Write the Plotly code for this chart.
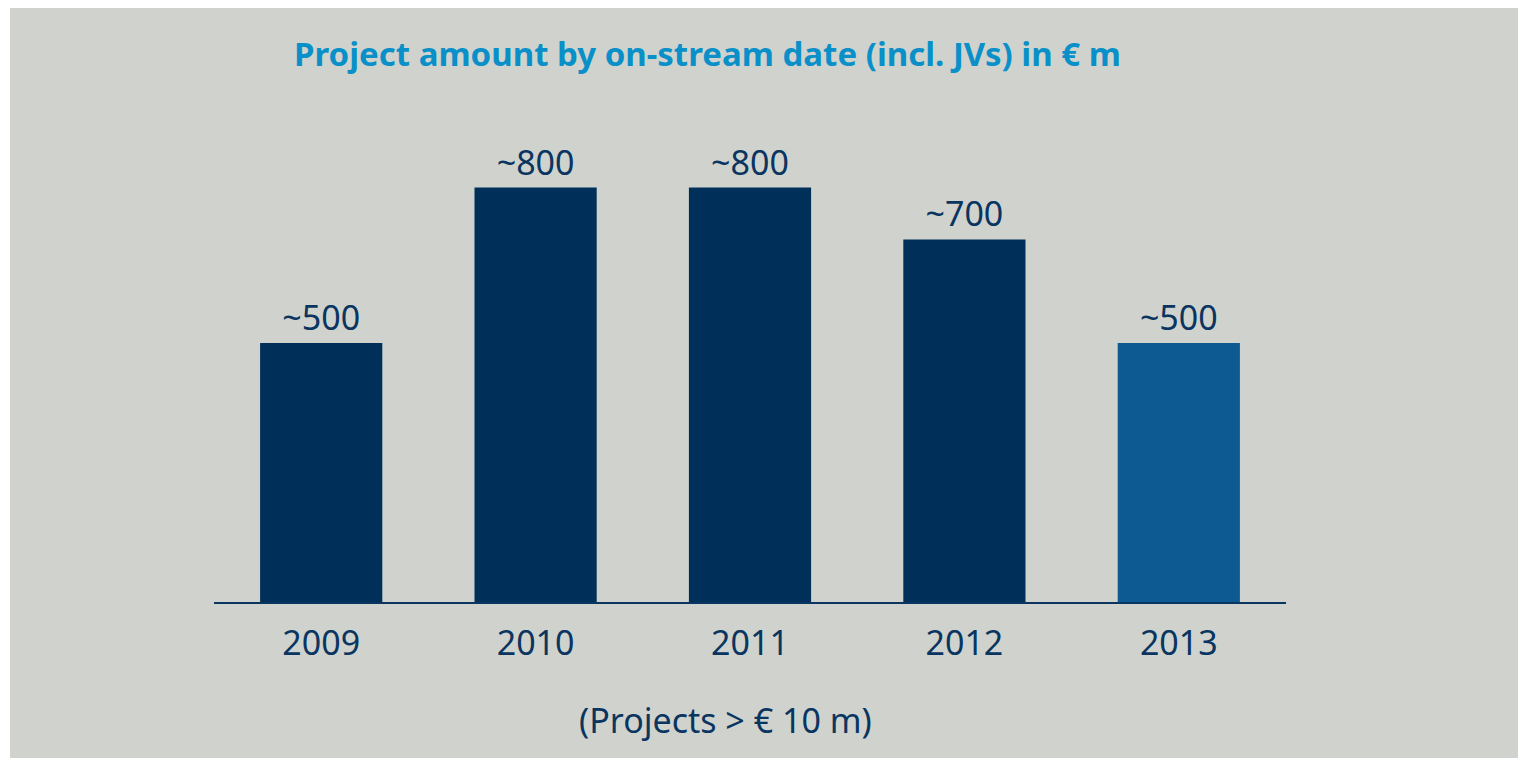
import plotly.graph_objects as go

years = ["2009", "2010", "2011", "2012", "2013"]
amounts = [500, 800, 800, 700, 500]
labels = ["~500", "~800", "~800", "~700", "~500"]
bar_colors = ["#00305A", "#00305A", "#00305A", "#00305A", "#0C5A91"]

title_text = "Project amount by on-stream date (incl. JVs) in € m"
note_text = "(Projects > € 10 m)"

# page has an 8px body margin; work in screen coords and shift
OFF = 8
W, H = 1526, 758
L, T = 214 - OFF, 84 - OFF
R = W - (1286 - OFF)
B = H - (602 - OFF)
pw, ph = W - L - R, H - T - B

def px(x):
    return (x - OFF - L) / pw

def py(y):
    return (H - B - (y - OFF)) / ph

fig = go.Figure()
fig.add_trace(go.Bar(
    x=years, y=amounts, text=labels, textposition="outside",
    marker=dict(color=bar_colors, line=dict(width=0)),
    textfont=dict(family="Noto Sans", size=34, color="#0A3560"),
    cliponaxis=False, hoverinfo="skip",
))

fig.add_shape(type="rect", xref="paper", yref="paper",
              x0=px(10), x1=px(1540), y0=py(775), y1=py(8),
              fillcolor="#D0D3CD", line=dict(width=0), layer="below")

fig.add_annotation(text="<b>" + title_text + "</b>", xref="paper", yref="paper",
                   x=px(292), y=py(53), xanchor="left", yanchor="middle",
                   showarrow=False,
                   font=dict(family="Noto Sans", size=33, color="#0A90C8"))
fig.add_annotation(text=note_text, xref="paper", yref="paper",
                   x=px(725), y=py(720), xanchor="center", yanchor="middle",
                   showarrow=False,
                   font=dict(family="Noto Sans", size=34, color="#0A3560"))

fig.update_layout(
    width=W, height=H,
    margin=dict(l=L, r=R, t=T, b=B),
    paper_bgcolor="white", plot_bgcolor="rgba(0,0,0,0)",
    bargap=0.43, showlegend=False,
    xaxis=dict(type="category", range=[-0.5, 4.5], showline=True,
               linecolor="#0A3560", linewidth=2, ticks="", showgrid=False,
               tickfont=dict(family="Noto Sans", size=34, color="#0A3560"),
               ticklabelstandoff=10),
    yaxis=dict(range=[0, 1000], visible=False, showgrid=False),
)

fig.write_html("out.html")
